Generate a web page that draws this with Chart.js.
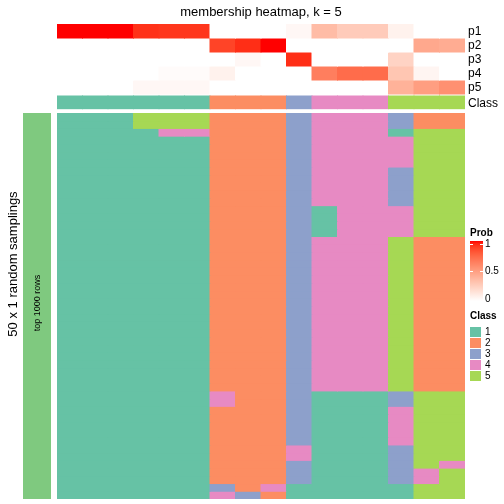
<!DOCTYPE html>
<html>
<head>
<meta charset="utf-8">
<script src="https://cdn.jsdelivr.net/npm/chart.js@4/dist/chart.umd.min.js"></script>
<style>
body { margin: 0; background: #fff; font-family: "Liberation Sans", Arial, sans-serif; }
#wrap { position: relative; width: 504px; height: 504px; overflow: hidden; }
canvas { position: absolute; left: 0; top: 0; }
.txt { position: absolute; white-space: nowrap; color: #000; line-height: 1; }
.rot { transform: translate(-50%, -50%) rotate(-90deg); }
</style>
</head>
<body>
<div id="wrap">
  <canvas id="sideBar" width="504" height="504"></canvas>
  <canvas id="topHeat" width="504" height="504"></canvas>
  <canvas id="mainHeat" width="504" height="504"></canvas>
  <div class="txt" id="title" style="left:261px; top:11px; font-size:13px; transform:translate(-50%,-50%);"></div>
  <div class="txt rot" id="rowTitle" style="left:12px; top:264px; font-size:13px;"></div>
  <div class="txt rot" id="sideLabel" style="left:37px; top:303px; font-size:9px;"></div>
  <div id="legend"></div>
</div>
<script>
// columns of the consensus matrix
const columns = ['c1','c2','c3','c4','c5','c6','c7','c8','c9','c10','c11','c12','c13','c14','c15','c16'];
// membership probabilities (rows p1..p5)
const probRows = ['p1', 'p2', 'p3', 'p4', 'p5'];
const p1 = [1, 1, 1, 0.93, 0.92, 0.92, 0, 0, 0, 0.04, 0.35, 0.27, 0.27, 0.07, 0, 0];
const p2 = [0, 0, 0, 0, 0, 0, 0.88, 0.94, 1, 0, 0, 0, 0, 0, 0.45, 0.43];
const p3 = [0, 0, 0, 0, 0, 0, 0, 0.04, 0, 0.94, 0, 0, 0, 0.23, 0, 0];
const p4 = [0, 0, 0, 0, 0.02, 0.02, 0.07, 0, 0, 0, 0.65, 0.73, 0.73, 0.3, 0.05, 0];
const p5 = [0, 0, 0, 0.04, 0.04, 0.04, 0, 0, 0, 0, 0, 0, 0, 0.4, 0.5, 0.57];
const columnClass = [1, 1, 1, 1, 1, 1, 2, 2, 2, 3, 4, 4, 4, 5, 5, 5];

// class of each column in each of the 50 random samplings (one string per sampling)
const samplings = [
  '1115552223444322', '1115552223444322', '1111442223444155',
  '1111112223444455', '1111112223444455', '1111112223444455', '1111112223444455',
  '1111112223444355', '1111112223444355', '1111112223444355', '1111112223444355', '1111112223444355',
  '1111112223144455', '1111112223144455', '1111112223144455', '1111112223144455',
  '1111112223444522', '1111112223444522', '1111112223444522', '1111112223444522', '1111112223444522',
  '1111112223444522', '1111112223444522', '1111112223444522', '1111112223444522', '1111112223444522',
  '1111112223444522', '1111112223444522', '1111112223444522', '1111112223444522', '1111112223444522',
  '1111112223444522', '1111112223444522', '1111112223444522', '1111112223444522', '1111112223444522',
  '1111114223111355', '1111114223111355',
  '1111112223111455', '1111112223111455', '1111112223111455', '1111112223111455', '1111112223111455',
  '1111112224111355', '1111112224111355',
  '1111112223111354',
  '1111112223111345', '1111112223111345',
  '1111113241111155',
  '1111114321111155'
];

const classLabels = ['1', '2', '3', '4', '5'];
const classColors = ['#66C2A5', '#FC8D62', '#8DA0CB', '#E78AC3', '#A6D854'];
const probTicks = [1, 0.5, 0];
const sideColor = '#7FC97F';

// white -> red in LAB space (like colorRamp2)
function rgb2lab(r, g, b) {
  const lin = v => { v /= 255; return v > 0.04045 ? Math.pow((v + 0.055) / 1.055, 2.4) : v / 12.92; };
  const R = lin(r), G = lin(g), B = lin(b);
  const X = (R * 0.4124 + G * 0.3576 + B * 0.1805) / 0.95047;
  const Y = (R * 0.2126 + G * 0.7152 + B * 0.0722);
  const Z = (R * 0.0193 + G * 0.1192 + B * 0.9505) / 1.08883;
  const f = t => t > 0.008856 ? Math.cbrt(t) : 7.787 * t + 16 / 116;
  return [116 * f(Y) - 16, 500 * (f(X) - f(Y)), 200 * (f(Y) - f(Z))];
}
function lab2rgb(L, a, b) {
  const fy = (L + 16) / 116, fx = fy + a / 500, fz = fy - b / 200;
  const inv = t => t * t * t > 0.008856 ? t * t * t : (t - 16 / 116) / 7.787;
  const X = inv(fx) * 0.95047, Y = inv(fy), Z = inv(fz) * 1.08883;
  let R = X * 3.2406 - Y * 1.5372 - Z * 0.4986;
  let G = -X * 0.9689 + Y * 1.8758 + Z * 0.0415;
  let B = X * 0.0557 - Y * 0.2040 + Z * 1.0570;
  const gam = v => { v = v > 0.0031308 ? 1.055 * Math.pow(v, 1 / 2.4) - 0.055 : 12.92 * v; return Math.round(Math.min(1, Math.max(0, v)) * 255); };
  return 'rgb(' + gam(R) + ',' + gam(G) + ',' + gam(B) + ')';
}
const labWhite = rgb2lab(255, 255, 255), labRed = rgb2lab(255, 0, 0);
function probColor(t) {
  return lab2rgb(labWhite[0] + (labRed[0] - labWhite[0]) * t,
                 labWhite[1] + (labRed[1] - labWhite[1]) * t,
                 labWhite[2] + (labRed[2] - labWhite[2]) * t);
}

const FONT = '"Liberation Sans", Arial, sans-serif';
const heatOpts = {
  grouped: false, barPercentage: 1, categoryPercentage: 1, borderWidth: 0, inflateAmount: 0.5
};
function baseOptions(padding, ymax) {
  return {
    responsive: false,
    animation: false,
    events: [],
    layout: { padding: padding },
    plugins: { legend: { display: false }, tooltip: { enabled: false } },
    scales: {
      x: { display: false },
      y: { display: false, min: 0, max: ymax, reverse: true }
    }
  };
}

// top annotation: p1..p5 then Class row (small gap)
const probs = [p1, p2, p3, p4, p5];
const classSpan = [5.15, 6.1];
const topSets = probRows.map((name, i) => Object.assign({
  label: name,
  data: columns.map(() => [i, i + 1]),
  backgroundColor: probs[i].map(probColor)
}, heatOpts));
topSets.push(Object.assign({
  label: 'Class',
  data: columns.map(() => classSpan),
  backgroundColor: columnClass.map(c => classColors[c - 1])
}, heatOpts));

const rowLabelPlugin = {
  id: 'rowLabels',
  afterDraw(chart) {
    const ctx = chart.ctx, y = chart.scales.y;
    ctx.save();
    ctx.fillStyle = '#000';
    ctx.font = '12px ' + FONT;
    ctx.textBaseline = 'middle';
    chart.data.datasets.forEach(ds => {
      const span = ds.data[0];
      ctx.fillText(ds.label, chart.chartArea.right + 3, y.getPixelForValue((span[0] + span[1]) / 2) + 1);
    });
    ctx.restore();
  }
};

new Chart(document.getElementById('topHeat'), {
  type: 'bar',
  data: { labels: columns, datasets: topSets },
  options: baseOptions({ left: 57, right: 39, top: 24, bottom: 394.7 }, 6.1),
  plugins: [rowLabelPlugin]
});

// main heatmap: 50 samplings x 16 columns
const mainSets = samplings.map((row, r) => Object.assign({
  label: 'sampling ' + (r + 1),
  data: columns.map(() => [r, r + 1]),
  backgroundColor: row.split('').map(c => classColors[+c - 1])
}, heatOpts));

new Chart(document.getElementById('mainHeat'), {
  type: 'bar',
  data: { labels: columns, datasets: mainSets },
  options: baseOptions({ left: 57, right: 39, top: 113, bottom: 5 }, samplings.length)
});

// left row annotation bar
new Chart(document.getElementById('sideBar'), {
  type: 'bar',
  data: { labels: ['top 1000 rows'], datasets: [Object.assign({ data: [[0, 1]], backgroundColor: sideColor }, heatOpts)] },
  options: baseOptions({ left: 23, right: 453, top: 113, bottom: 5 }, 1)
});

document.getElementById('title').textContent = 'membership heatmap, k = 5';
document.getElementById('rowTitle').textContent = '50 x 1 random samplings';
document.getElementById('sideLabel').textContent = 'top 1000 rows';

// legends
const legend = document.getElementById('legend');
function addDiv(style, text) {
  const d = document.createElement('div');
  d.className = 'txt';
  d.style.cssText = style;
  if (text !== undefined) d.textContent = text;
  legend.appendChild(d);
  return d;
}
addDiv('left:470px; top:228px; font-size:10px; font-weight:bold;', 'Prob');
const stops = [];
for (let i = 0; i <= 20; i++) stops.push(probColor(1 - i / 20) + ' ' + (i * 5) + '%');
addDiv('left:470px; top:241px; width:13px; height:60px; background:linear-gradient(to bottom,' + stops.join(',') + ');');
const tickY = [243.5, 271, 298.5];
probTicks.forEach((t, i) => {
  addDiv('left:485px; top:' + (tickY[i] - 5) + 'px; font-size:10px;', String(t));
  if (t > 0) {
    addDiv('left:470px; top:' + tickY[i] + 'px; width:3px; height:1px; background:#fff;');
    addDiv('left:480px; top:' + tickY[i] + 'px; width:3px; height:1px; background:#fff;');
  }
});
addDiv('left:470px; top:311px; font-size:10px; font-weight:bold;', 'Class');
classLabels.forEach((lab, i) => {
  const top = 326.7 + i * 11;
  addDiv('left:470px; top:' + top + 'px; width:11px; height:10.4px; background:' + classColors[i] + ';');
  addDiv('left:485px; top:' + (top + 0.5) + 'px; font-size:10px;', lab);
});
</script>
</body>
</html>
